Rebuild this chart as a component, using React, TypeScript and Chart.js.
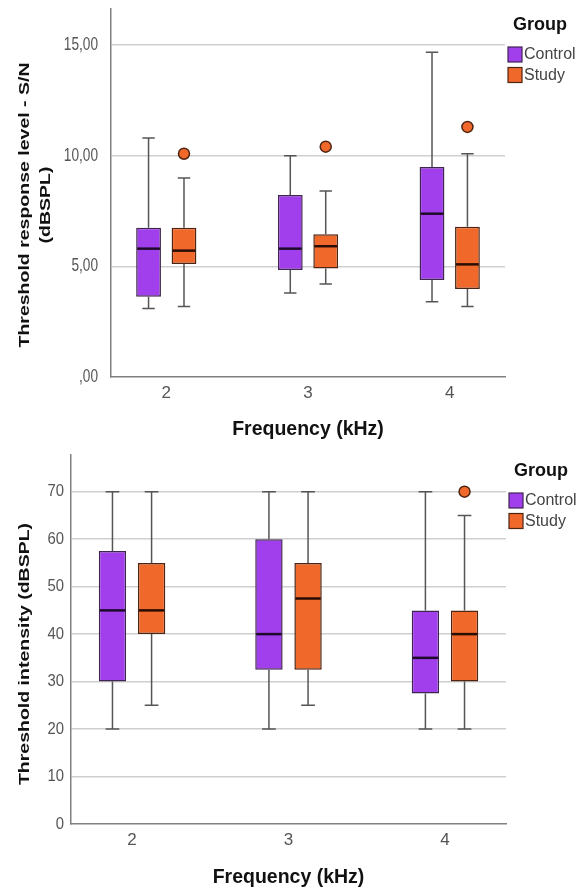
import React, { useEffect, useRef } from 'react';
import { Chart, registerables } from 'chart.js';

Chart.register(...registerables);

// ---------- shared ----------
const categories = [2, 3, 4];
const groupLabels = ['Control', 'Study'];
const legendTitle = 'Group';
const xTitle = 'Frequency (kHz)';

// ---------- chart 1: Threshold response level - S/N ----------
const snTitle = ['Threshold response level - S/N', '(dBSPL)'];
const snTicks = [0, 5, 10, 15];
const snTickLabels = [',00', '5,00', '10,00', '15,00'];
const snControlMin = [3.1, 3.8, 3.4];
const snControlQ1 = [3.63, 4.84, 4.38];
const snControlMedian = [5.8, 5.8, 7.38];
const snControlQ3 = [6.75, 8.22, 9.49];
const snControlMax = [10.8, 10.0, 14.67];
const snControlOutliers: number[][] = [[], [], []];
const snStudyMin = [3.19, 4.2, 3.19];
const snStudyQ1 = [5.11, 4.9, 3.98];
const snStudyMedian = [5.71, 5.91, 5.09];
const snStudyQ3 = [6.75, 6.45, 6.79];
const snStudyMax = [8.99, 8.4, 10.09];
const snStudyOutliers: number[][] = [[10.09], [10.41], [11.3]];

// ---------- chart 2: Threshold intensity ----------
const tiTitle = ['Threshold intensity (dBSPL)'];
const tiTicks = [0, 10, 20, 30, 40, 50, 60, 70];
const tiTickLabels = ['0', '10', '20', '30', '40', '50', '60', '70'];
const tiControlMin = [20, 20, 20];
const tiControlQ1 = [30, 32.5, 27.5];
const tiControlMedian = [45, 40, 35];
const tiControlQ3 = [57.5, 60, 45];
const tiControlMax = [70, 70, 70];
const tiControlOutliers: number[][] = [[], [], []];
const tiStudyMin = [25, 25, 20];
const tiStudyQ1 = [40, 32.5, 30];
const tiStudyMedian = [45, 47.5, 40];
const tiStudyQ3 = [55, 55, 45];
const tiStudyMax = [70, 70, 65];
const tiStudyOutliers: number[][] = [[], [], [70]];

const PURPLE = '#A23FEC';
const ORANGE = '#F0692B';
const PURPLE_BORDER = '#3e2650';
const ORANGE_BORDER = '#4e2412';
const FONT = '"Liberation Sans", Arial, sans-serif';

function buildSeries(mins: number[], q1: number[], med: number[], q3: number[], maxs: number[], outs: number[][]) {
  return categories.map((c, i) => ({
    x: c,
    y: [q1[i], q3[i]],
    min: mins[i],
    median: med[i],
    max: maxs[i],
    outliers: outs[i],
  }));
}

const boxPlugin = {
  id: 'boxWhiskers',
  beforeDatasetsDraw(chart: any) {
    const { ctx } = chart;
    const yScale = chart.scales.y;
    chart.data.datasets.forEach((ds: any, di: number) => {
      const meta = chart.getDatasetMeta(di);
      meta.data.forEach((bar: any, i: number) => {
        const raw = ds.data[i];
        const w = bar.width;
        const x = bar.x;
        const yMin = yScale.getPixelForValue(raw.min);
        const yMax = yScale.getPixelForValue(raw.max);
        const yQ1 = yScale.getPixelForValue(raw.y[0]);
        const yQ3 = yScale.getPixelForValue(raw.y[1]);
        ctx.save();
        ctx.strokeStyle = '#555555';
        ctx.lineWidth = 1.5;
        ctx.beginPath();
        ctx.moveTo(x, yQ3);
        ctx.lineTo(x, yMax);
        ctx.moveTo(x, yQ1);
        ctx.lineTo(x, yMin);
        ctx.moveTo(x - w * 0.25, yMax);
        ctx.lineTo(x + w * 0.25, yMax);
        ctx.moveTo(x - w * 0.25, yMin);
        ctx.lineTo(x + w * 0.25, yMin);
        ctx.stroke();
        ctx.restore();
      });
    });
  },
  afterDatasetsDraw(chart: any) {
    const { ctx } = chart;
    const yScale = chart.scales.y;
    chart.data.datasets.forEach((ds: any, di: number) => {
      const meta = chart.getDatasetMeta(di);
      meta.data.forEach((bar: any, i: number) => {
        const raw = ds.data[i];
        const w = bar.width;
        const x = bar.x;
        const yMed = yScale.getPixelForValue(raw.median);
        ctx.save();
        ctx.strokeStyle = ds.medianColor;
        ctx.lineWidth = 2.5;
        ctx.beginPath();
        ctx.moveTo(x - w / 2 + 1, yMed);
        ctx.lineTo(x + w / 2 - 1, yMed);
        ctx.stroke();
        raw.outliers.forEach((v: number) => {
          const yo = yScale.getPixelForValue(v);
          ctx.beginPath();
          ctx.arc(x, yo, 5.5, 0, Math.PI * 2);
          ctx.fillStyle = ds.backgroundColor;
          ctx.fill();
          ctx.lineWidth = 1.5;
          ctx.strokeStyle = ds.borderColor;
          ctx.stroke();
        });
        ctx.restore();
      });
    });
  },
};

const decorPlugin = {
  id: 'decor',
  afterDraw(chart: any, _args: any, opts: any) {
    const { ctx } = chart;
    // y tick labels (condensed like the source)
    const ys = chart.scales.y;
    ctx.save();
    ctx.fillStyle = '#555555';
    ctx.font = `${opts.yTickSize}px ${FONT}`;
    ctx.textAlign = 'right';
    ctx.textBaseline = 'middle';
    ys.ticks.forEach((t: any, i: number) => {
      ctx.save();
      ctx.translate(ys.right - opts.yTickPad, ys.getPixelForValue(t.value));
      ctx.scale(opts.yTickSquish, 1);
      ctx.fillText(opts.yTickLabels[i], 0, 0);
      ctx.restore();
    });
    ctx.restore();

    // rotated y-axis title (horizontally condensed like the source)
    ctx.save();
    ctx.fillStyle = '#111111';
    ctx.font = `bold ${opts.yTitleSize}px ${FONT}`;
    ctx.textAlign = 'center';
    ctx.textBaseline = 'middle';
    opts.yTitle.forEach((line: string, li: number) => {
      ctx.save();
      ctx.translate(opts.yTitleX[li], opts.yTitleY);
      ctx.scale(opts.yTitleSquish, 1);
      ctx.rotate(-Math.PI / 2);
      ctx.fillText(line, 0, 0);
      ctx.restore();
    });
    ctx.restore();

    // legend
    const area = chart.chartArea;
    const lx = area.right + opts.legendDx;
    const top = area.top;
    ctx.save();
    ctx.fillStyle = '#111111';
    ctx.font = `bold 18px ${FONT}`;
    ctx.textAlign = 'left';
    ctx.textBaseline = 'middle';
    ctx.fillText(legendTitle, lx + 5, top + opts.legendTitleDy);
    ctx.font = `16px ${FONT}`;
    chart.data.datasets.forEach((ds: any, i: number) => {
      const sy = top + opts.legendItemDy + i * 20.5;
      ctx.fillStyle = ds.backgroundColor;
      ctx.fillRect(lx, sy, 14, 15);
      ctx.strokeStyle = ds.borderColor;
      ctx.lineWidth = 1.2;
      ctx.strokeRect(lx, sy, 14, 15);
      ctx.fillStyle = '#444444';
      ctx.fillText(ds.label, lx + 16, sy + 8);
    });
    ctx.restore();
  },
};

type Cfg = {
  control: any[];
  study: any[];
  ticks: number[];
  tickLabels: string[];
  yMax: number;
  yWidth: number;
  yPad: number;
  yTickSize: number;
  yTickSquish: number;
  top: number;
  right: number;
  xHeight: number;
  xTitlePad: number;
  yTitle: string[];
  yTitleX: number[];
  yTitleY: number;
  yTitleSize: number;
};

function makeConfig(c: Cfg): any {
  return {
    type: 'bar',
    data: {
      datasets: [
        {
          label: groupLabels[0],
          data: c.control,
          backgroundColor: PURPLE,
          borderColor: PURPLE_BORDER,
          medianColor: '#1e0b2c',
          borderWidth: 1.5,
          borderSkipped: false,
        },
        {
          label: groupLabels[1],
          data: c.study,
          backgroundColor: ORANGE,
          borderColor: ORANGE_BORDER,
          medianColor: '#2a0d04',
          borderWidth: 1.5,
          borderSkipped: false,
        },
      ],
    },
    options: {
      animation: false,
      responsive: false,
      events: [],
      layout: { padding: { left: 0, right: c.right, top: c.top, bottom: 0 } },
      datasets: { bar: { categoryPercentage: 0.5, barPercentage: 0.7 } },
      plugins: {
        legend: { display: false },
        tooltip: { enabled: false },
        decor: {
          yTitle: c.yTitle,
          yTitleX: c.yTitleX,
          yTitleY: c.yTitleY,
          yTitleSize: c.yTitleSize,
          yTitleSquish: 0.75,
          yTickLabels: c.tickLabels,
          yTickSize: c.yTickSize,
          yTickSquish: c.yTickSquish,
          yTickPad: c.yPad,
          legendDx: 3,
          legendTitleDy: 16,
          legendItemDy: 38,
        },
      },
      scales: {
        x: {
          type: 'linear',
          min: 1.61,
          max: 4.39,
          offset: false,
          grid: { display: false, drawTicks: false },
          border: { display: true, color: '#808080', width: 1.5 },
          ticks: { color: '#555555', font: { family: FONT, size: 17 }, padding: 6 },
          afterBuildTicks: (s: any) => {
            s.ticks = categories.map((v) => ({ value: v }));
          },
          afterFit: (s: any) => {
            s.height = c.xHeight;
            s.paddingLeft = 0;
            s.paddingRight = 0;
          },
          title: {
            display: true,
            text: xTitle,
            color: '#111111',
            font: { family: FONT, size: 19.5, weight: 'bold' },
            padding: { top: 0, bottom: c.xTitlePad },
          },
        },
        y: {
          type: 'linear',
          min: 0,
          max: c.yMax,
          grid: {
            drawTicks: false,
            color: (ctx: any) => (ctx.tick && ctx.tick.value === 0 ? 'rgba(0,0,0,0)' : '#cfcfcf'),
            lineWidth: 1.5,
          },
          border: { display: true, color: '#808080', width: 1.5 },
          ticks: { display: false },
          afterBuildTicks: (s: any) => {
            s.ticks = c.ticks.map((v) => ({ value: v }));
          },
          afterFit: (s: any) => {
            s.width = c.yWidth;
            s.paddingTop = 0;
            s.paddingBottom = 0;
          },
        },
      },
    },
    plugins: [boxPlugin, decorPlugin],
  };
}

function BoxChart({ cfg }: { cfg: Cfg }) {
  const ref = useRef<HTMLCanvasElement | null>(null);
  useEffect(() => {
    if (!ref.current) return;
    const chart = new Chart(ref.current, makeConfig(cfg));
    return () => chart.destroy();
  }, [cfg]);
  return <canvas ref={ref} width={576} height={445} style={{ display: 'block', width: 576, height: 445 }} />;
}

const cfgTop: Cfg = {
  control: buildSeries(snControlMin, snControlQ1, snControlMedian, snControlQ3, snControlMax, snControlOutliers),
  study: buildSeries(snStudyMin, snStudyQ1, snStudyMedian, snStudyQ3, snStudyMax, snStudyOutliers),
  ticks: snTicks,
  tickLabels: snTickLabels,
  yMax: 16.63,
  yWidth: 111,
  yPad: 13,
  yTickSize: 17.5,
  yTickSquish: 0.78,
  top: 9,
  right: 71,
  xHeight: 68,
  xTitlePad: 4,
  yTitle: snTitle,
  yTitleX: [25, 46],
  yTitleY: 205,
  yTitleSize: 19.5,
};

const cfgBottom: Cfg = {
  control: buildSeries(tiControlMin, tiControlQ1, tiControlMedian, tiControlQ3, tiControlMax, tiControlOutliers),
  study: buildSeries(tiStudyMin, tiStudyQ1, tiStudyMedian, tiStudyQ3, tiStudyMax, tiStudyOutliers),
  ticks: tiTicks,
  tickLabels: tiTickLabels,
  yMax: 77.73,
  yWidth: 71,
  yPad: 7,
  yTickSize: 16.5,
  yTickSquish: 0.9,
  top: 10,
  right: 70,
  xHeight: 66,
  xTitlePad: 1,
  yTitle: tiTitle,
  yTitleX: [25],
  yTitleY: 209,
  yTitleSize: 19.5,
};

export default function App() {
  return (
    <div style={{ position: 'absolute', left: 0, top: 0, width: 576, height: 890, background: '#ffffff' }}>
      <BoxChart cfg={cfgTop} />
      <BoxChart cfg={cfgBottom} />
    </div>
  );
}
